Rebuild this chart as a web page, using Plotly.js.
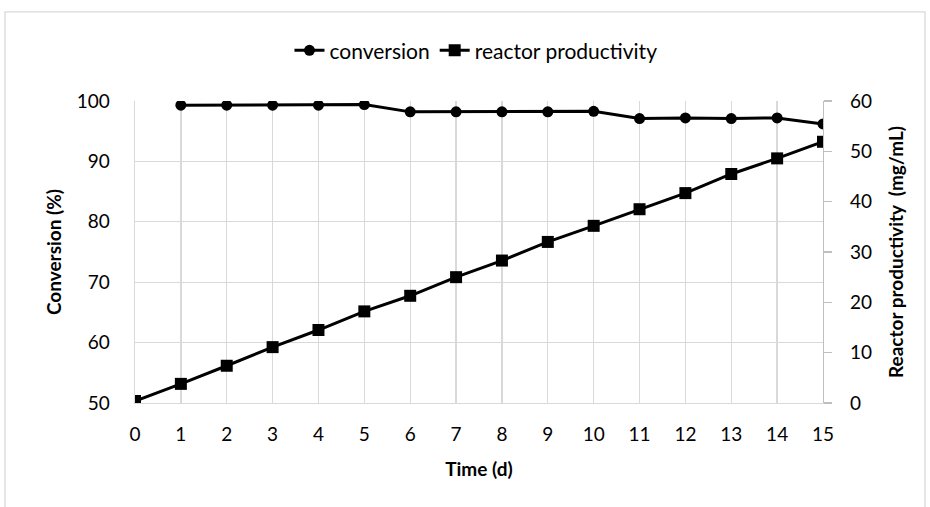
<!DOCTYPE html>
<html>
<head>
<meta charset="utf-8">
<script src="https://cdn.plot.ly/plotly-3.0.1.min.js"></script>
<style>
  html, body { margin: 0; padding: 0; background: #ffffff; }
  #chart { width: 930px; height: 507px; }
</style>
</head>
<body>
<div id="chart"></div>
<script>
// Data
const days = [0, 1, 2, 3, 4, 5, 6, 7, 8, 9, 10, 11, 12, 13, 14, 15];
const conversionDays = [1, 2, 3, 4, 5, 6, 7, 8, 9, 10, 11, 12, 13, 14, 15];
const conversion = [99.3, 99.3, 99.3, 99.3, 99.4, 98.2, 98.2, 98.2, 98.2, 98.3, 97.1, 97.2, 97.1, 97.2, 96.2];
const productivity = [0.4, 3.8, 7.4, 11.1, 14.5, 18.2, 21.3, 25.0, 28.3, 32.0, 35.2, 38.5, 41.7, 45.5, 48.6, 51.9];
const xTicks = days;
const leftTicks = [50, 60, 70, 80, 90, 100];
const rightTicks = [0, 10, 20, 30, 40, 50, 60];

const FONT = "Lato, 'Open Sans', sans-serif";
const GRID = "#d9d9d9";

const traces = [
  {
    x: conversionDays, y: conversion, name: "conversion",
    type: "scatter", mode: "lines+markers",
    line: { color: "#000000", width: 3 },
    marker: { symbol: "circle", size: 11, color: "#000000" },
    yaxis: "y"
  },
  {
    x: days, y: productivity, name: "reactor productivity",
    type: "scatter", mode: "lines+markers",
    line: { color: "#000000", width: 3 },
    marker: { symbol: "square", size: 12, color: "#000000" },
    yaxis: "y2"
  }
];

const layout = {
  width: 930, height: 507,
  margin: { l: 135, r: 107, t: 100.5, b: 103.5, pad: 0 },
  paper_bgcolor: "#ffffff", plot_bgcolor: "#ffffff",
  font: { family: FONT, size: 18, color: "#000000" },
  showlegend: true,
  legend: {
    orientation: "h", x: 0.4956, xanchor: "center", y: 1.1667, yanchor: "middle",
    font: { family: FONT, size: 21, color: "#000000" },
    itemwidth: 30,
    bgcolor: "rgba(0,0,0,0)"
  },
  xaxis: {
    range: [0, 15], tickvals: xTicks, ticktext: xTicks.map(String),
    showgrid: true, gridcolor: GRID, gridwidth: 1.3,
    zeroline: false, showline: true, linecolor: GRID, linewidth: 1.3,
    ticks: "", ticklabelstandoff: 14,
    tickfont: { family: FONT, size: 19 },
    title: { text: "<b>Time (d)</b>", font: { family: FONT, size: 19 }, standoff: 18 },
    fixedrange: true
  },
  yaxis: {
    range: [50, 100], tickvals: leftTicks,
    showgrid: true, gridcolor: GRID, gridwidth: 1.3,
    zeroline: false, showline: true, linecolor: GRID, linewidth: 1.3,
    ticks: "", ticklabelstandoff: 20,
    tickfont: { family: FONT, size: 19 },
    title: { text: "<b>Conversion (%)</b>", font: { family: FONT, size: 19 }, standoff: 10 },
    fixedrange: true
  },
  yaxis2: {
    range: [0, 60], tickvals: rightTicks, overlaying: "y", side: "right",
    showgrid: false, zeroline: false, showline: true, linecolor: "#bfbfbf", linewidth: 1.3,
    ticks: "outside", ticklen: 8, tickcolor: "#bfbfbf", tickwidth: 1.3,
    ticklabelstandoff: 14,
    tickfont: { family: FONT, size: 19 },
    title: { text: "<b>Reactor productivity  (mg/mL)</b>", font: { family: FONT, size: 19 }, standoff: 18 },
    fixedrange: true
  },
  shapes: [
    {
      type: "rect", xref: "paper", yref: "paper",
      x0: (5 - 135) / 688, x1: (925 - 135) / 688,
      y0: (403.5 - 520) / 303, y1: (403.5 - 11) / 303,
      line: { color: GRID, width: 1.3 }, fillcolor: "rgba(0,0,0,0)", layer: "below"
    }
  ]
};

Plotly.newPlot("chart", traces, layout, { displayModeBar: false, staticPlot: true });
</script>
</body>
</html>
